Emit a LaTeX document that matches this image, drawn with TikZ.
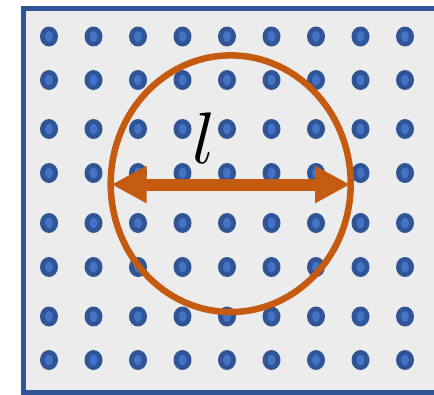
\documentclass[tikz,border=0pt]{standalone}
\usetikzlibrary{arrows.meta}
\definecolor{frameblue}{HTML}{2F5597}
\definecolor{dotouter}{HTML}{2F5597}
\definecolor{dotinner}{HTML}{4472C4}
\definecolor{bggray}{HTML}{ECECEC}
\definecolor{rust}{HTML}{C55A11}
\begin{document}
\begin{tikzpicture}[x=1pt,y=-1pt,
  frame/.style={draw=frameblue,fill=bggray,line width=5pt},
  ring/.style={draw=rust,line width=6.5pt},
  measure/.style={draw=rust,line width=12pt,{Triangle[length=35pt,width=35pt]}-{Triangle[length=35pt,width=35pt]}}
]
\useasboundingbox (0,0) rectangle (434,394);
\clip (0,0) rectangle (434,394);
\draw[frame] (23,8) rectangle (445,392.5);
\foreach \y in {36.5,80,129,173,223,267,316.5,360}{
  \foreach \i in {0,...,8}{
    \fill[dotouter] ({49+44.5*\i},\y) ellipse [x radius=9, y radius=10];
    \fill[dotinner] ({49+44.5*\i},\y) ellipse [x radius=4, y radius=5.5];
  }
}
\draw[ring] (230.7,183.7) ellipse [x radius=120, y radius=128.3];
\coordinate (L) at (111.5,184.5);
\coordinate (R) at (350,184.5);
\draw[measure] (L) -- (R);
\node[inner sep=0pt] (lab) at (204.5,138) {\scalebox{7.3}{$l$}};
\end{tikzpicture}
\end{document}
